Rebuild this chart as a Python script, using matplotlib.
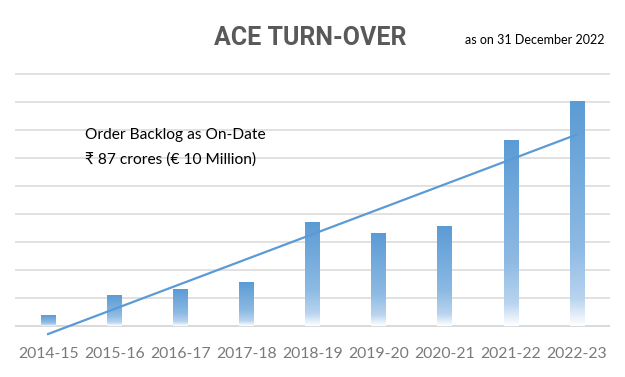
import numpy as np
import matplotlib
matplotlib.use("Agg")
import matplotlib.pyplot as plt
from matplotlib.colors import LinearSegmentedColormap

# Turn-over per year (relative units read off the gridlines; no axis scale shown)
years = ["2014-15", "2015-16", "2016-17", "2017-18", "2018-19",
         "2019-20", "2020-21", "2021-22", "2022-23"]
turnover = [0.36, 1.10, 1.29, 1.54, 3.68, 3.29, 3.54, 6.64, 8.00]

title = "ACE TURN-OVER"
subtitle = "as on 31 December 2022"
note_lines = ["Order Backlog as On-Date", "\u20b9 87 crores (\u20ac 10 Million)"]

BLUE = "#5b9bd5"
GRID = "#d9d9d9"
LABEL = "#7a7a7a"
FONT = ["Lato", "DejaVu Sans"]

plt.rcParams["font.family"] = FONT

fig = plt.figure(figsize=(6.25, 3.77), dpi=100)
ax = fig.add_axes([0.024, 0.091, 0.952, 0.717])

x = np.arange(len(years))
width = 0.22

# gradient fill: solid blue at the top, fading out to white at the base
cmap = LinearSegmentedColormap.from_list(
    "fade", [(0.0, "#ffffff"), (0.12, "#b9d4ef"), (0.35, "#8dbae3"), (1.0, BLUE)])
grad = np.linspace(0, 1, 256).reshape(-1, 1)
for xi, h in zip(x, turnover):
    ax.imshow(grad, cmap=cmap, origin="lower", aspect="auto",
              extent=[xi - width / 2, xi + width / 2, 0, h], zorder=2)

# linear trend line
coef = np.polyfit(x, turnover, 1)
ax.plot(x, np.polyval(coef, x), color=BLUE, lw=1.6, zorder=3, clip_on=False)

for g in range(0, 10):
    ax.axhline(g, color="#cfcfcf" if g == 0 else GRID, lw=1.1, zorder=1)

ax.set_xlim(-0.5, len(years) - 0.5)
ax.set_ylim(-0.6, 9.05)
for s in ax.spines.values():
    s.set_visible(False)
ax.set_yticks([])
ax.set_xticks(x)
ax.set_xticklabels(years, fontsize=11.3, color=LABEL)
ax.tick_params(axis="x", length=0, pad=3)

fig.text(0.496, 0.9, title, ha="center", va="center", fontsize=18,
         fontweight="bold", color="#595959", family=["Roboto", "Lato"])
fig.text(0.855, 0.893, subtitle, ha="center", va="center", fontsize=9,
         color="#000000", family=FONT)

ax.text(0.56, 6.8, note_lines[0], fontsize=11.2, color="#000000", va="center")
ax.text(0.56, 5.95, note_lines[1], fontsize=11.2, color="#000000", va="center")

fig.savefig("out.png", dpi=100)
